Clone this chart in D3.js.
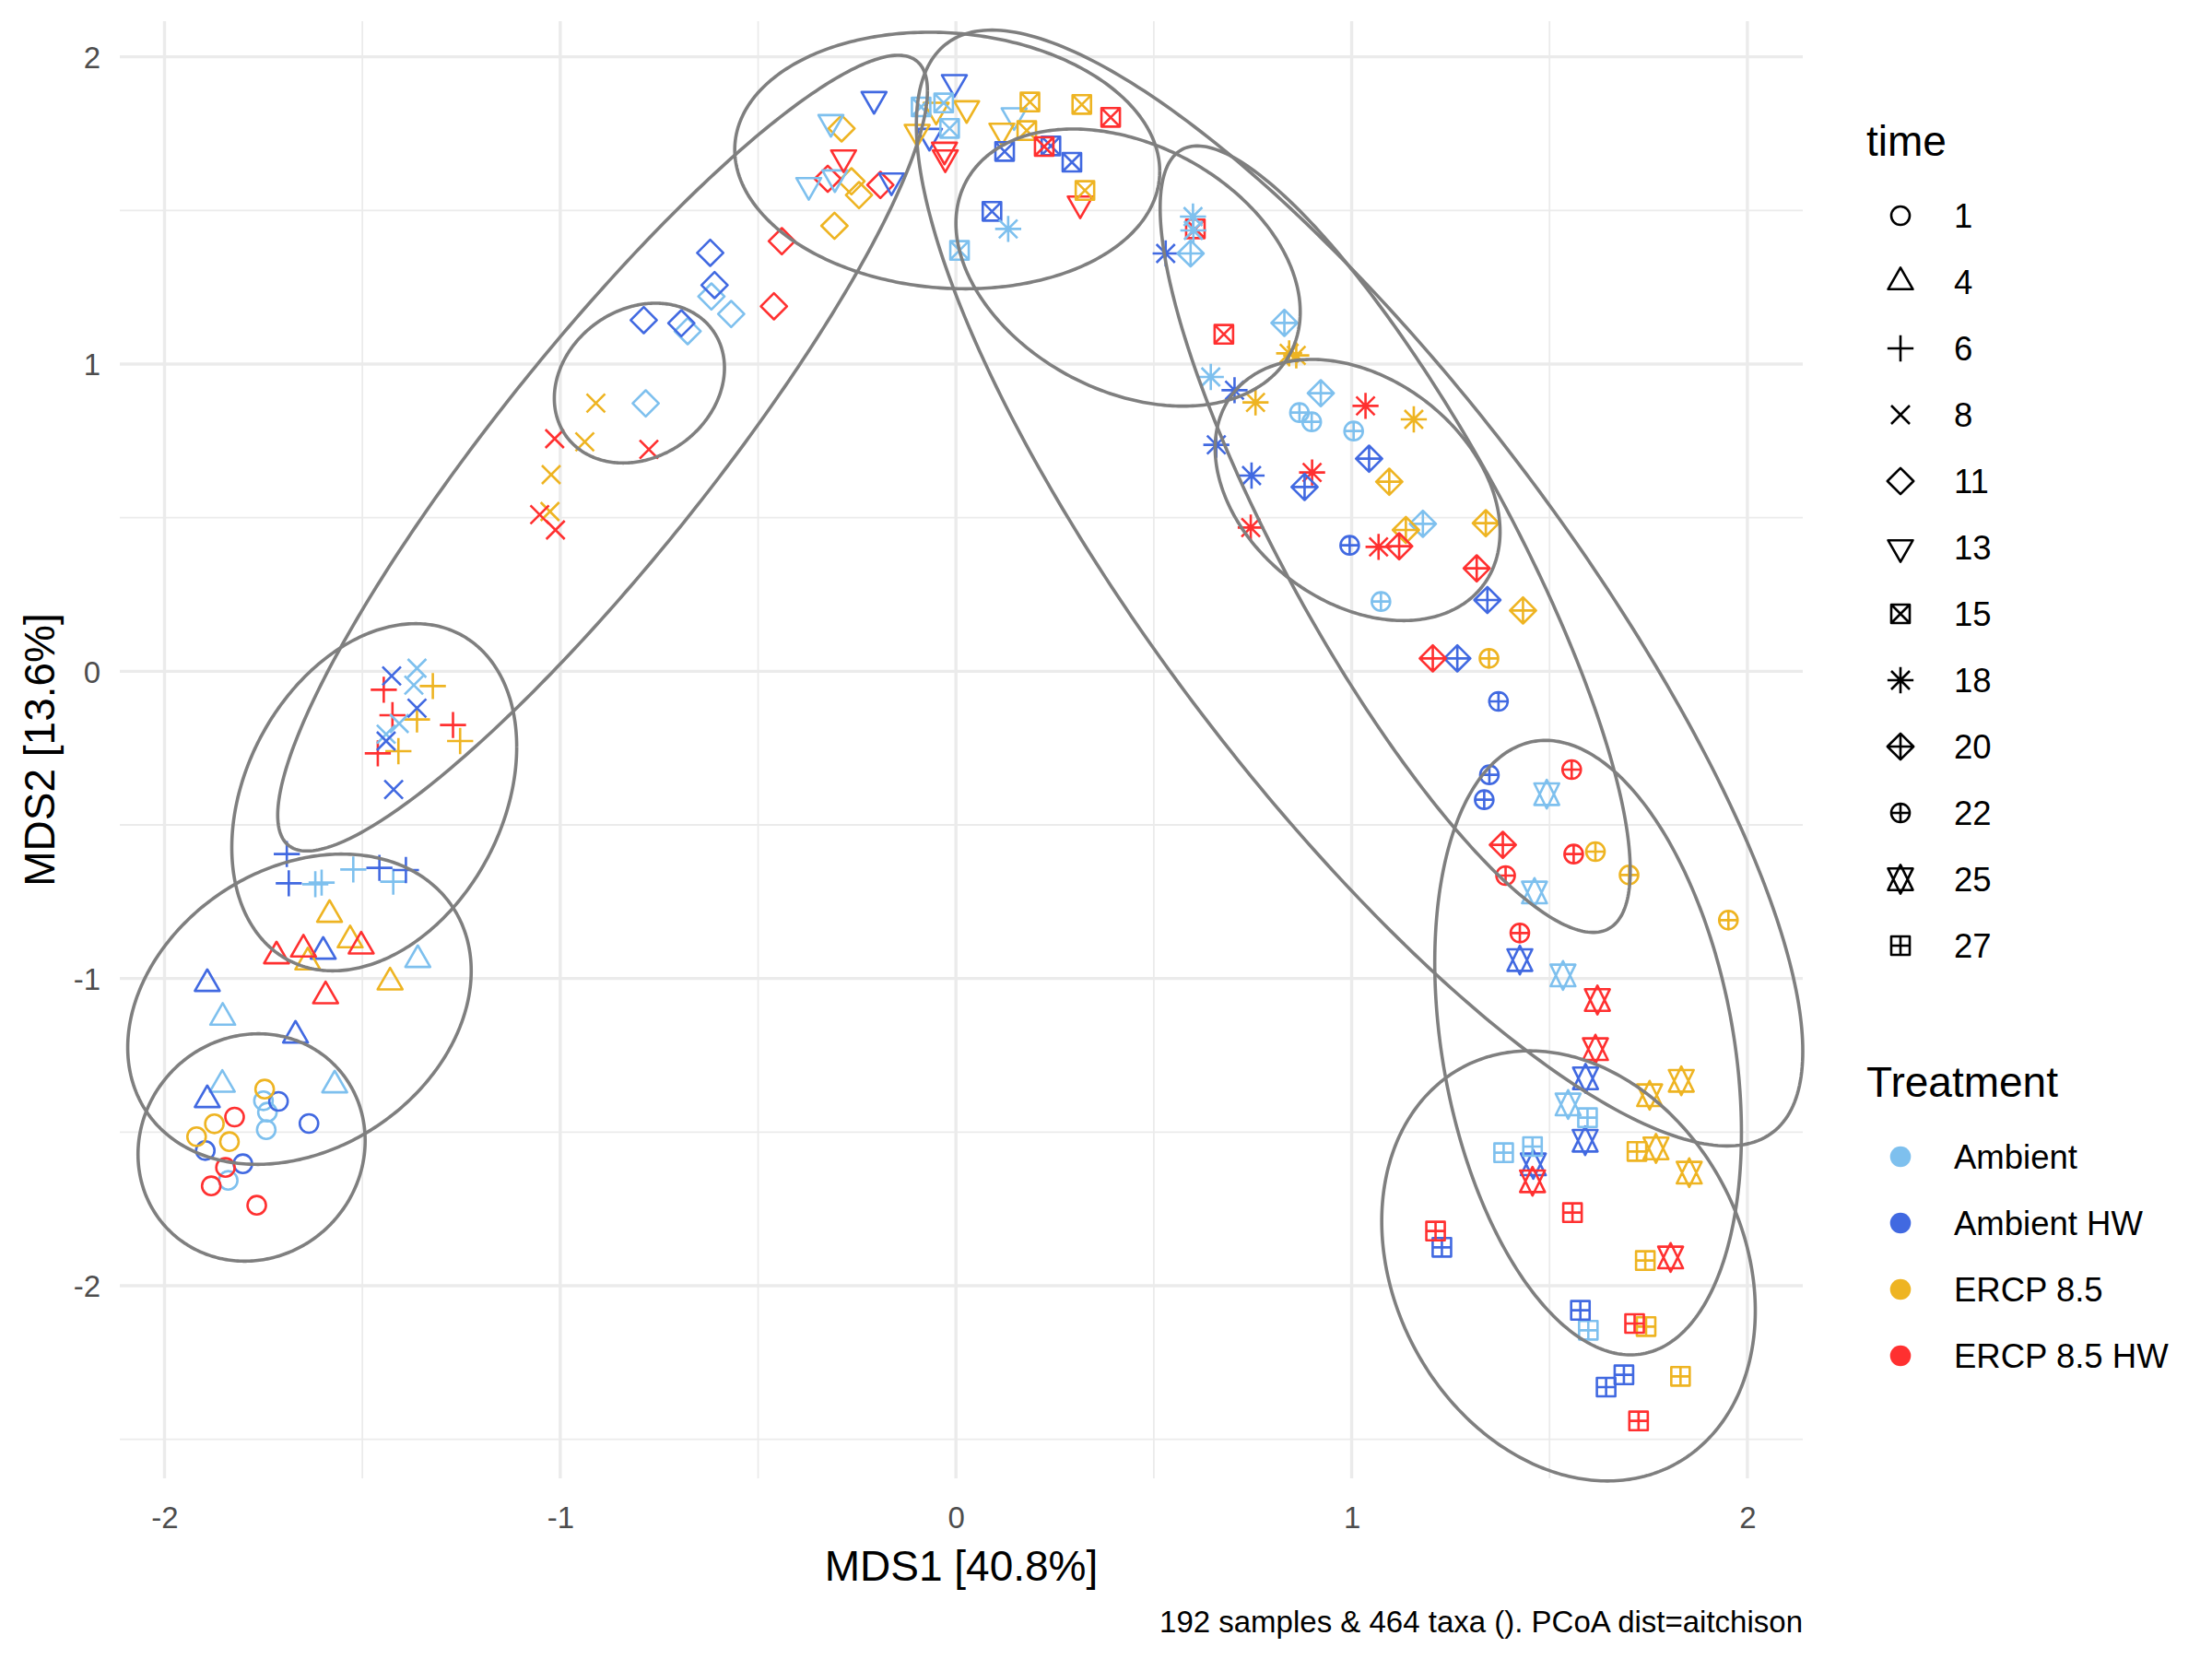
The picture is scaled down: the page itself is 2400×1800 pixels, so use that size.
<!DOCTYPE html>
<html><head><meta charset="utf-8">
<script src="https://cdn.jsdelivr.net/npm/d3@7"></script>
<style>body{margin:0;background:#fff} svg{display:block}</style>
</head><body><svg id="chart" width="2400" height="1800"></svg>
<script>
// ---------------- DATA ----------------
const times = [1, 4, 6, 8, 11, 13, 15, 18, 20, 22, 25, 27];
const treatments = ["Ambient", "Ambient HW", "ERCP 8.5", "ERCP 8.5 HW"];
const treatmentColors = ["#7EC0EE", "#4169E1", "#EEB422", "#FF3030"];
// rows: [treatment index, MDS1, MDS2]
const time1 = [[0,-1.750,-1.398],[0,-1.740,-1.435],[0,-1.743,-1.492],[0,-1.839,-1.657],
  [1,-1.712,-1.400],[1,-1.635,-1.472],[1,-1.897,-1.560],[1,-1.802,-1.603],
  [2,-1.747,-1.360],[2,-1.874,-1.473],[2,-1.919,-1.515],[2,-1.836,-1.531],
  [3,-1.823,-1.451],[3,-1.846,-1.615],[3,-1.882,-1.675],[3,-1.767,-1.738]];
const time4 = [[0,-1.360,-0.939],[0,-1.853,-1.127],[0,-1.854,-1.345],[0,-1.570,-1.347],
  [1,-1.599,-0.912],[1,-1.892,-1.017],[1,-1.669,-1.185],[1,-1.892,-1.395],
  [2,-1.583,-0.792],[2,-1.531,-0.875],[2,-1.638,-0.947],[2,-1.430,-1.012],
  [3,-1.717,-0.927],[3,-1.649,-0.905],[3,-1.503,-0.895],[3,-1.593,-1.057]];
const time6 = [[0,-1.619,-0.693],[0,-1.603,-0.688],[0,-1.523,-0.645],[0,-1.422,-0.685],
  [1,-1.691,-0.595],[1,-1.686,-0.690],[1,-1.457,-0.640],[1,-1.390,-0.647],
  [2,-1.322,-0.048],[2,-1.362,-0.157],[2,-1.253,-0.227],[2,-1.409,-0.260],
  [3,-1.446,-0.060],[3,-1.424,-0.143],[3,-1.271,-0.175],[3,-1.461,-0.267]];
const time8 = [[0,-1.362,0.010],[0,-1.370,-0.045],[0,-1.407,-0.170],[0,-1.440,-0.205],
  [1,-1.426,-0.015],[1,-1.362,-0.120],[1,-1.440,-0.227],[1,-1.421,-0.385],
  [2,-0.910,0.873],[2,-0.938,0.747],[2,-1.023,0.640],[2,-1.026,0.520],
  [3,-1.014,0.757],[3,-0.776,0.722],[3,-1.052,0.510],[3,-1.012,0.460]];
const time11 = [[0,-0.618,1.220],[0,-0.568,1.163],[0,-0.678,1.107],[0,-0.784,0.872],
  [1,-0.621,1.362],[1,-0.610,1.257],[1,-0.789,1.143],[1,-0.694,1.133],
  [2,-0.307,1.450],[2,-0.289,1.767],[2,-0.264,1.595],[2,-0.245,1.550],
  [3,-0.440,1.400],[3,-0.460,1.188],[3,-0.324,1.603],[3,-0.191,1.583]];
const time13 = [[0,-0.316,1.787],[0,-0.306,1.607],[0,-0.372,1.582],[0,0.147,1.809],
  [1,-0.207,1.862],[1,-0.163,1.597],[1,-0.004,1.917],[1,-0.067,1.742],
  [2,-0.050,1.827],[2,0.027,1.832],[2,-0.098,1.755],[2,0.116,1.759],
  [3,-0.284,1.672],[3,-0.029,1.697],[3,-0.027,1.672],[3,0.314,1.522]];
const time15 = [[0,-0.088,1.837],[0,-0.031,1.850],[0,-0.016,1.767],[0,0.009,1.370],
  [1,0.123,1.692],[1,0.240,1.710],[1,0.293,1.657],[1,0.091,1.497],
  [2,0.187,1.853],[2,0.318,1.845],[2,0.179,1.760],[2,0.326,1.565],
  [3,0.391,1.803],[3,0.223,1.708],[3,0.605,1.440],[3,0.677,1.097]];
const time18 = [[0,0.599,1.480],[0,0.600,1.435],[0,0.644,0.958],[0,0.132,1.440],
  [1,0.530,1.360],[1,0.704,0.915],[1,0.658,0.737],[1,0.747,0.637],
  [2,0.842,1.035],[2,0.860,1.028],[2,0.757,0.875],[2,1.157,0.820],
  [3,1.035,0.864],[3,0.900,0.647],[3,0.745,0.468],[3,1.068,0.405]];
const time20 = [[0,0.593,1.360],[0,0.830,1.134],[0,0.922,0.905],[0,1.180,0.480],
  [1,1.044,0.692],[1,0.881,0.600],[1,1.343,0.232],[1,1.267,0.042],
  [2,1.095,0.617],[2,1.137,0.460],[2,1.339,0.482],[2,1.433,0.198],
  [3,1.120,0.407],[3,1.316,0.335],[3,1.205,0.042],[3,1.382,-0.565]];
const time22 = [[0,0.868,0.842],[0,0.899,0.812],[0,1.005,0.782],[0,1.074,0.227],
  [1,0.995,0.410],[1,1.371,-0.098],[1,1.348,-0.337],[1,1.335,-0.418],
  [2,1.347,0.042],[2,1.616,-0.587],[2,1.701,-0.663],[2,1.952,-0.810],
  [3,1.556,-0.320],[3,1.561,-0.595],[3,1.389,-0.665],[3,1.425,-0.852]];
const time25 = [[0,1.493,-0.400],[0,1.462,-0.720],[0,1.534,-0.990],[0,1.547,-1.410],
  [1,1.425,-0.940],[1,1.591,-1.325],[1,1.590,-1.528],[1,1.459,-1.605],
  [2,1.753,-1.380],[2,1.833,-1.333],[2,1.769,-1.553],[2,1.853,-1.632],
  [3,1.621,-1.070],[3,1.616,-1.230],[3,1.457,-1.660],[3,1.806,-1.908]];
const time27 = [[0,1.596,-1.453],[0,1.384,-1.567],[0,1.457,-1.547],[0,1.598,-2.145],
  [1,1.228,-1.875],[1,1.578,-2.080],[1,1.688,-2.290],[1,1.643,-2.330],
  [2,1.721,-1.563],[2,1.742,-1.918],[2,1.744,-2.133],[2,1.831,-2.295],
  [3,1.558,-1.762],[3,1.212,-1.822],[3,1.715,-2.123],[3,1.725,-2.440]];
const pointsByTime = [time1, time4, time6, time8, time11, time13, time15, time18, time20, time22, time25, time27];
// ellipses in data units: [centre MDS1, centre MDS2, half-width, half-height, tilt (x of top point rel. to half-width)]
const ellipses = [
  [-1.780,-1.550,0.287,0.370,0.06],
  [-1.659,-1.100,0.434,0.505,0.247],
  [-1.470,-0.410,0.360,0.565,0.29],
  [-0.893,0.710,0.821,1.295,0.91],
  [-0.800,0.938,0.215,0.260,0.19],
  [-0.022,1.6625,0.537,0.4175,-0.084],
  [1.020,0.271,1.120,1.816,-0.83],
  [0.435,1.314,0.435,0.451,-0.32],
  [1.015,0.590,0.360,0.425,-0.32],
  [1.110,0.430,0.594,1.280,-0.842],
  [1.5975,-1.225,0.3875,1.000,-0.277],
  [1.548,-1.9355,0.472,0.700,-0.208]];
const xTicks = [-2, -1, 0, 1, 2];
const yTicks = [-2, -1, 0, 1, 2];
const xMinor = [-1.5, -0.5, 0.5, 1.5];
const yMinor = [-2.5, -1.5, -0.5, 0.5, 1.5];
const xLabel = "MDS1 [40.8%]";
const yLabel = "MDS2 [13.6%]";
const caption = "192 samples & 464 taxa (). PCoA dist=aitchison";

// ---------------- LAYOUT ----------------
const svg = d3.select("#chart");
const P = {left: 130, right: 1956, top: 23, bottom: 1604};
const x = d3.scaleLinear().domain([-2.113, 2.14]).range([P.left, P.right]);
const y = d3.scaleLinear().domain([2.116, -2.627]).range([P.top, P.bottom]);
const FONT = "'Liberation Sans', Arial, Helvetica, sans-serif";
const GRID = "#EBEBEB";
const F_TICK = 33, F_TITLE = 46, F_LEG = 36.5, F_CAP = 33;
svg.append("rect").attr("width", 2400).attr("height", 1800).attr("fill", "#fff");

const g = svg.append("g");
g.selectAll(".xm").data(xMinor).join("line").attr("x1", d => x(d)).attr("x2", d => x(d))
  .attr("y1", P.top).attr("y2", P.bottom).attr("stroke", GRID).attr("stroke-width", 1.8);
g.selectAll(".ym").data(yMinor).join("line").attr("y1", d => y(d)).attr("y2", d => y(d))
  .attr("x1", P.left).attr("x2", P.right).attr("stroke", GRID).attr("stroke-width", 1.8);
g.selectAll(".xM").data(xTicks).join("line").attr("x1", d => x(d)).attr("x2", d => x(d))
  .attr("y1", P.top).attr("y2", P.bottom).attr("stroke", GRID).attr("stroke-width", 3.4);
g.selectAll(".yM").data(yTicks).join("line").attr("y1", d => y(d)).attr("y2", d => y(d))
  .attr("x1", P.left).attr("x2", P.right).attr("stroke", GRID).attr("stroke-width", 3.4);

const fmt = d => String(d);
const xAxis = d3.axisBottom(x).tickValues(xTicks).tickSize(0).tickPadding(0).tickFormat(fmt);
const xa = svg.append("g").attr("transform", `translate(0,${P.bottom + 31})`).call(xAxis);
xa.select(".domain").remove();
xa.selectAll("text").attr("font-family", FONT).attr("font-size", F_TICK).attr("fill", "#4D4D4D");
const yAxis = d3.axisLeft(y).tickValues(yTicks).tickSize(0).tickPadding(0).tickFormat(fmt);
const ya = svg.append("g").attr("transform", `translate(${P.left - 21},0)`).call(yAxis);
ya.select(".domain").remove();
ya.selectAll("text").attr("font-family", FONT).attr("font-size", F_TICK).attr("fill", "#4D4D4D").attr("dy", "0.36em");

svg.append("text").attr("x", (P.left + P.right) / 2).attr("y", 1715).attr("text-anchor", "middle")
  .attr("font-family", FONT).attr("font-size", F_TITLE).text(xLabel);
svg.append("text").attr("transform", `translate(59,${(P.top + P.bottom) / 2}) rotate(-90)`)
  .attr("text-anchor", "middle").attr("font-family", FONT).attr("font-size", F_TITLE).text(yLabel);
svg.append("text").attr("x", P.right).attr("y", 1771).attr("text-anchor", "end")
  .attr("font-family", FONT).attr("font-size", F_CAP).text(caption);

// ---------------- SHAPES (R pch 1..12 geometry) ----------------
const TRC0 = 1.55512030155621416073, TRC1 = 1.34677368708859836060, TRC2 = 0.77756015077810708036;
const S2 = Math.SQRT2;
function shapePath(k, s) {
  const c = 0.375 * s;
  const p = d3.path();
  const circ = r => { p.moveTo(r, 0); p.arc(0, 0, r, 0, 2 * Math.PI); };
  const line = (a, b, c2, d) => { p.moveTo(a, b); p.lineTo(c2, d); };
  const poly = pts => { p.moveTo(pts[0][0], pts[0][1]); pts.slice(1).forEach(q => p.lineTo(q[0], q[1])); p.closePath(); };
  const r = TRC0 * c, yc = TRC2 * c, xc = TRC1 * c, a = S2 * c;
  switch (k) {
    case 0: circ(c); break;
    case 1: poly([[0, -r], [xc, yc], [-xc, yc]]); break;
    case 2: line(-a, 0, a, 0); line(0, -a, 0, a); break;
    case 3: line(-c, -c, c, c); line(-c, c, c, -c); break;
    case 4: poly([[-a, 0], [0, -a], [a, 0], [0, a]]); break;
    case 5: poly([[0, r], [xc, -yc], [-xc, -yc]]); break;
    case 6: p.rect(-c, -c, 2 * c, 2 * c); line(-c, -c, c, c); line(-c, c, c, -c); break;
    case 7: line(-c, -c, c, c); line(-c, c, c, -c); line(-a, 0, a, 0); line(0, -a, 0, a); break;
    case 8: line(-a, 0, a, 0); line(0, -a, 0, a); poly([[-a, 0], [0, -a], [a, 0], [0, a]]); break;
    case 9: circ(c); line(-c, 0, c, 0); line(0, -c, 0, c); break;
    case 10: { const y2 = 0.5 * (yc + r);
      poly([[0, -r], [xc, y2], [-xc, y2]]); poly([[0, r], [xc, -y2], [-xc, -y2]]); break; }
    case 11: p.rect(-c, -c, 2 * c, 2 * c); line(-c, 0, c, 0); line(0, -c, 0, c); break;
  }
  return p.toString();
}
const PT = 26.7, STROKE = 2.6;

// ---------------- POINTS ----------------
const pts = [];
pointsByTime.forEach((arr, ti) => arr.forEach(r => pts.push({t: ti, c: r[0], x: r[1], y: r[2]})));
svg.append("g").selectAll("path").data(pts).join("path")
  .attr("transform", d => `translate(${x(d.x)},${y(d.y)})`)
  .attr("d", d => shapePath(d.t, PT))
  .attr("fill", "none").attr("stroke", d => treatmentColors[d.c])
  .attr("stroke-width", STROKE).attr("stroke-linejoin", "round");

// ---------------- ELLIPSES ----------------
const ellLine = d3.line().x(d => x(d[0])).y(d => y(d[1]));
svg.append("g").selectAll("path").data(ellipses).join("path")
  .attr("d", e => {
    const [cx, cy, A, B, rr] = e, phi = Math.acos(rr);
    const ring = d3.range(0, 361).map(i => {
      const t = i / 360 * 2 * Math.PI;
      return [cx + A * Math.cos(t), cy + B * Math.cos(t - phi)];
    });
    return ellLine(ring);
  })
  .attr("fill", "none").attr("stroke", "#7F7F7F").attr("stroke-width", 3.6);

// ---------------- LEGENDS ----------------
const LX = 2025, KX = 2062, TX = 2120;
svg.append("text").attr("x", LX).attr("y", 169).attr("font-family", FONT).attr("font-size", F_TITLE).text("time");
const tl = svg.append("g").selectAll("g").data(times).join("g")
  .attr("transform", (d, i) => `translate(0,${234 + i * 72})`);
tl.append("path").attr("transform", `translate(${KX},0)`).attr("d", (d, i) => shapePath(i, PT))
  .attr("fill", "none").attr("stroke", "#000").attr("stroke-width", STROKE).attr("stroke-linejoin", "round");
tl.append("text").attr("x", TX).attr("dy", "0.36em").attr("font-family", FONT).attr("font-size", F_LEG).text(d => d);

svg.append("text").attr("x", LX).attr("y", 1190).attr("font-family", FONT).attr("font-size", F_TITLE).text("Treatment");
const cl = svg.append("g").selectAll("g").data(treatments).join("g")
  .attr("transform", (d, i) => `translate(0,${1255 + i * 72})`);
cl.append("circle").attr("cx", KX).attr("r", 11.3).attr("fill", (d, i) => treatmentColors[i]);
cl.append("text").attr("x", TX).attr("dy", "0.36em").attr("font-family", FONT).attr("font-size", F_LEG).text(d => d);
</script></body></html>
